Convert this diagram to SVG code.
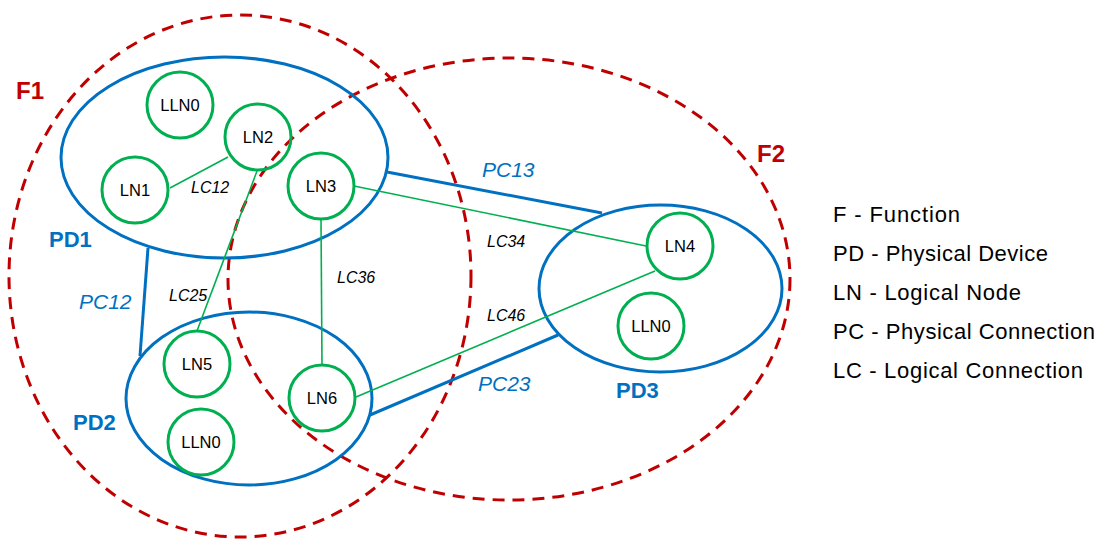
<svg xmlns="http://www.w3.org/2000/svg" width="1103" height="542" viewBox="0 0 1103 542">
  <style>
    .func { fill: none; stroke: #C00000; stroke-width: 3; stroke-dasharray: 12 8; }
    .dev { fill: none; stroke: #0070C0; stroke-width: 3; }
    .ln { fill: none; stroke: #00B050; stroke-width: 3; }
    .lc { stroke: #00B050; stroke-width: 1.6; }
    .pc { stroke: #0070C0; stroke-width: 3; }
    .fl { font-family: "Liberation Sans", Arial, sans-serif; font-weight: bold; font-size: 24px; fill: #C00000; }
    .dl { font-family: "Liberation Sans", Arial, sans-serif; font-weight: bold; font-size: 22px; fill: #0070C0; }
    .pl { font-family: "Liberation Sans", Arial, sans-serif; font-style: italic; font-size: 21px; fill: #0070C0; }
    .ll { font-family: "Liberation Sans", Arial, sans-serif; font-style: italic; font-size: 16px; fill: #000; }
    .nl { font-family: "Liberation Sans", Arial, sans-serif; font-size: 16.5px; fill: #000; text-anchor: middle; }
    .lg { font-family: "Liberation Sans", Arial, sans-serif; font-size: 22px; fill: #000; }
  </style>
  <rect width="1103" height="542" fill="#fff"/>

  <!-- functions -->
  <g id="F1">
    <ellipse class="func" cx="240" cy="276" rx="231" ry="261"/>
    <text class="fl" x="16" y="99">F1</text>
  </g>
  <g id="F2">
    <ellipse class="func" cx="509" cy="279" rx="281" ry="221"/>
    <text class="fl" x="757" y="162">F2</text>
  </g>

  <!-- physical devices -->
  <g id="PD1">
    <ellipse class="dev" cx="224.5" cy="157.5" rx="163.5" ry="100.5"/>
    <text class="dl" x="49" y="247">PD1</text>
  </g>
  <g id="PD2">
    <ellipse class="dev" cx="249" cy="398.5" rx="123" ry="86.5"/>
    <text class="dl" x="73" y="430">PD2</text>
  </g>
  <g id="PD3">
    <ellipse class="dev" cx="660.5" cy="288.5" rx="121.5" ry="83.5"/>
    <text class="dl" x="616" y="398">PD3</text>
  </g>

  <!-- physical and logical connections -->
  <g id="connectors">
    <line class="pc" x1="148" y1="248" x2="140" y2="356"/>
    <line class="pc" x1="387" y1="172" x2="602" y2="213"/>
    <line class="pc" x1="370" y1="415" x2="558" y2="335"/>
    <line class="lc" x1="170" y1="188" x2="228" y2="157"/>
    <line class="lc" x1="257" y1="171" x2="197" y2="331"/>
    <line class="lc" x1="321" y1="219" x2="322" y2="365"/>
    <line class="lc" x1="354" y1="186" x2="646" y2="246"/>
    <line class="lc" x1="356" y1="397" x2="655" y2="271"/>
    <text class="pl" x="79" y="309">PC12</text>
    <text class="pl" x="482" y="177">PC13</text>
    <text class="pl" x="478" y="391">PC23</text>
    <text class="ll" x="191" y="193">LC12</text>
    <text class="ll" x="169" y="301">LC25</text>
    <text class="ll" x="337" y="283">LC36</text>
    <text class="ll" x="487" y="247">LC34</text>
    <text class="ll" x="487" y="321">LC46</text>
  </g>

  <!-- logical nodes -->
  <g id="PD1-LLN0"><circle class="ln" cx="180" cy="105" r="33"/><text class="nl" x="180" y="111">LLN0</text></g>
  <g id="LN1"><circle class="ln" cx="135" cy="190" r="33"/><text class="nl" x="135" y="196">LN1</text></g>
  <g id="LN2"><circle class="ln" cx="258" cy="137" r="33"/><text class="nl" x="258" y="143">LN2</text></g>
  <g id="LN3"><circle class="ln" cx="321" cy="186" r="33"/><text class="nl" x="321" y="192">LN3</text></g>
  <g id="LN5"><circle class="ln" cx="197" cy="364" r="33"/><text class="nl" x="197" y="370">LN5</text></g>
  <g id="PD2-LLN0"><circle class="ln" cx="201" cy="442" r="33"/><text class="nl" x="201" y="448">LLN0</text></g>
  <g id="LN6"><circle class="ln" cx="322" cy="398" r="33"/><text class="nl" x="322" y="404">LN6</text></g>
  <g id="LN4"><circle class="ln" cx="680" cy="246" r="33"/><text class="nl" x="680" y="252">LN4</text></g>
  <g id="PD3-LLN0"><circle class="ln" cx="651" cy="326" r="33"/><text class="nl" x="651" y="332">LLN0</text></g>

  <!-- legend -->
  <g id="legend">
    <text class="lg" x="833" y="222" textLength="127">F - Function</text>
    <text class="lg" x="833" y="261" textLength="215">PD - Physical Device</text>
    <text class="lg" x="833" y="300" textLength="188">LN - Logical Node</text>
    <text class="lg" x="833" y="339" textLength="262">PC - Physical Connection</text>
    <text class="lg" x="833" y="378" textLength="250">LC - Logical Connection</text>
  </g>
</svg>
